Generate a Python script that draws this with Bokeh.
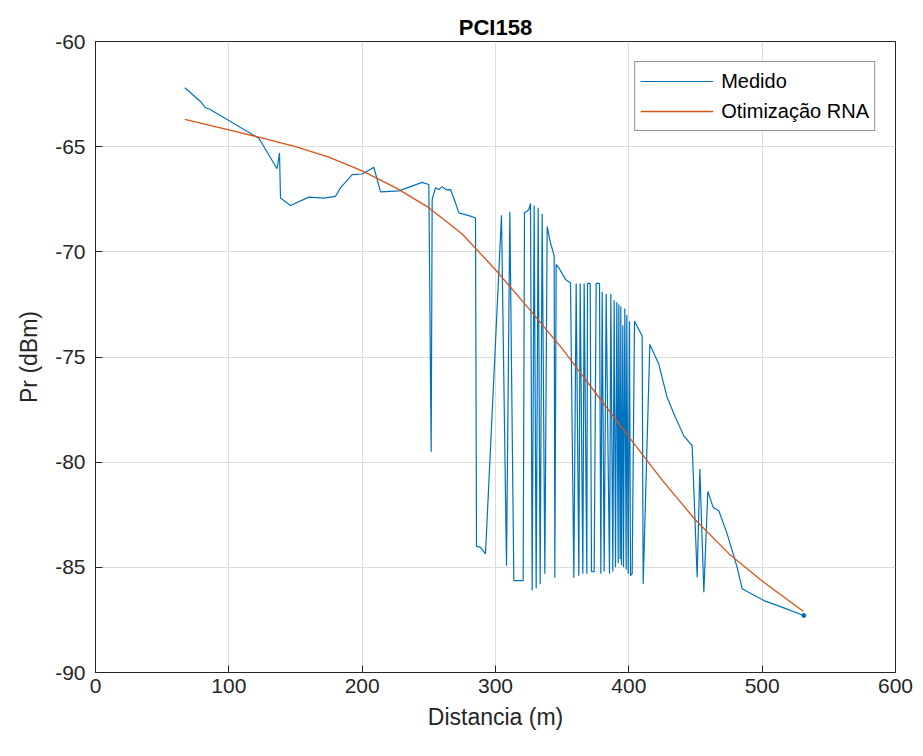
from bokeh.plotting import figure
from bokeh.models import Range1d, Legend, LegendItem, FixedTicker, PrintfTickFormatter
from bokeh.embed import file_html
from bokeh.resources import INLINE

# Measured signal (Medido)
med_x = [67, 78.75, 82.5, 85.7, 122.5, 136.2, 138, 138.75, 146.25, 160, 171.25, 180, 183.75,
         192.5, 200, 208.75, 213.75, 227.5, 245, 250, 251.75, 252.5, 255, 257.5, 260, 263, 266.25,
         270, 272.5, 281.25, 285, 285.75, 288.75, 292.5, 304.5, 308.25, 310.75, 313.75, 320.75,
         321.75, 325, 326.25, 327.5, 329, 330.5, 332, 333.5, 335, 337, 338.75, 341, 344, 344.5,
         345.5, 347.5, 352.5, 356.25, 358.75, 360.5, 362.5, 363.5, 365.5, 366.5, 368.5, 369, 371,
         372, 374, 375.5, 378, 379, 380, 381.5, 383, 385.5, 386.5, 388, 389, 390, 391, 392, 392.5,
         393.5, 394, 394.5, 395.5, 396, 397, 398, 398.5, 399.5, 400.5, 401.25, 402.5, 404.25,
         410, 410.75, 415.75, 422.5, 428.75, 435, 441.25, 447.5, 451.25, 453.25, 456.25, 459.25,
         463.25, 467.5, 473.75, 481.25, 485, 501.25, 516.25, 531.25]
med_y = [-62.2, -62.85, -63.15, -63.22, -64.6, -66.05, -65.3, -67.44, -67.8, -67.4, -67.45, -67.36,
         -66.96, -66.33, -66.3, -65.98, -67.15, -67.1, -66.7, -66.8, -79.5, -67.5, -66.96, -67.04,
         -66.9, -67.05, -67.04, -67.67, -68.15, -68.3, -68.39, -84.0, -84.05, -84.36, -68.26,
         -84.93, -68.1, -85.63, -85.63, -68.15, -68.0, -67.7, -86.1, -67.8, -86.0, -67.9, -85.8,
         -68.2, -85.3, -68.8, -69.5, -70.2, -85.5, -70.6, -70.76, -71.31, -71.47, -85.5, -71.5,
         -85.4, -71.5, -85.3, -71.5, -85.3, -71.5, -71.5, -85.2, -85.2, -71.5, -71.5, -85.3, -71.9,
         -85.2, -72.0, -85.3, -72.0, -85.2, -72.3, -85.0, -72.4, -84.8, -72.5, -84.6, -72.6, -84.9,
         -73.5, -85.0, -72.7, -85.1, -73.0, -85.3, -73.3, -85.4, -85.3, -73.29, -74.0, -85.79,
         -74.4, -75.35, -76.93, -77.88, -78.75, -79.22, -85.47, -80.33, -86.18, -81.39, -82.15,
         -82.31, -83.41, -85.0, -86.02, -86.58, -86.93, -87.29]

# ANN optimisation (Otimização RNA)
rna_x = [67, 100, 122.5, 150, 175, 200, 225, 250, 275, 300, 325, 350, 375, 400, 425, 450,
         475, 500, 531]
rna_y = [-63.7, -64.2, -64.55, -65.0, -65.5, -66.15, -66.95, -67.9, -69.15, -70.85, -72.7,
         -74.6, -76.7, -78.8, -80.85, -82.75, -84.35, -85.65, -87.1]

x_ticks = [0, 100, 200, 300, 400, 500, 600]
y_ticks = [-90, -85, -80, -75, -70, -65, -60]

FONT = "Liberation Sans"

p = figure(width=923, height=756, output_backend="svg", toolbar_location=None,
           x_range=Range1d(0, 600), y_range=Range1d(-90, -60),
           min_border_left=95, min_border_right=28, min_border_top=41, min_border_bottom=84,
           title="PCI158")

p.background_fill_color = "white"
p.border_fill_color = "white"
p.outline_line_color = "#262626"
p.outline_line_width = 1

p.title.align = "center"
p.title.text_font = FONT
p.title.text_font_size = "22px"
p.title.text_font_style = "bold"
p.title.text_color = "black"
p.title.standoff = 4

for ax, ticks in ((p.xaxis[0], x_ticks), (p.yaxis[0], y_ticks)):
    ax.ticker = FixedTicker(ticks=ticks)
    ax.formatter = PrintfTickFormatter(format="%d")
    ax.major_tick_in = 7
    ax.major_tick_out = 0
    ax.minor_tick_line_color = None
    ax.axis_line_color = "#262626"
    ax.major_tick_line_color = "#262626"
    ax.major_label_text_font = FONT
    ax.major_label_text_font_size = "21px"
    ax.major_label_text_color = "#262626"
    ax.axis_label_text_font = FONT
    ax.axis_label_text_font_size = "23px"
    ax.axis_label_text_font_style = "normal"
    ax.axis_label_text_color = "#262626"

p.xaxis.axis_label = "Distancia (m)"
p.yaxis.axis_label = "Pr (dBm)"
p.xaxis.major_label_standoff = 6
p.xaxis.axis_label_standoff = 8
p.yaxis.major_label_standoff = 10
p.yaxis.axis_label_standoff = 10

p.xgrid.ticker = FixedTicker(ticks=x_ticks)
p.ygrid.ticker = FixedTicker(ticks=y_ticks)
p.grid.grid_line_color = "#DCDCDC"
p.grid.grid_line_width = 1

r1 = p.line(med_x, med_y, line_color="#0072BD", line_width=1.2)
r2 = p.line(rna_x, rna_y, line_color="#D95319", line_width=1.3)
p.scatter([med_x[-1]], [med_y[-1]], size=4, color="#0072BD")

legend = Legend(items=[LegendItem(label="Medido", renderers=[r1]),
                       LegendItem(label="Otimização RNA", renderers=[r2])],
                location="top_right")
legend.label_text_font = FONT
legend.label_text_font_size = "20px"
legend.label_text_color = "black"
legend.border_line_color = "#262626"
legend.border_line_width = 1
legend.background_fill_color = "white"
legend.background_fill_alpha = 1
legend.glyph_width = 73
legend.glyph_height = 28
legend.label_height = 28
legend.label_standoff = 8
legend.padding = 5
legend.spacing = 2
legend.margin = 20
p.add_layout(legend, "center")

open("out.html", "w").write(file_html(p, INLINE))
